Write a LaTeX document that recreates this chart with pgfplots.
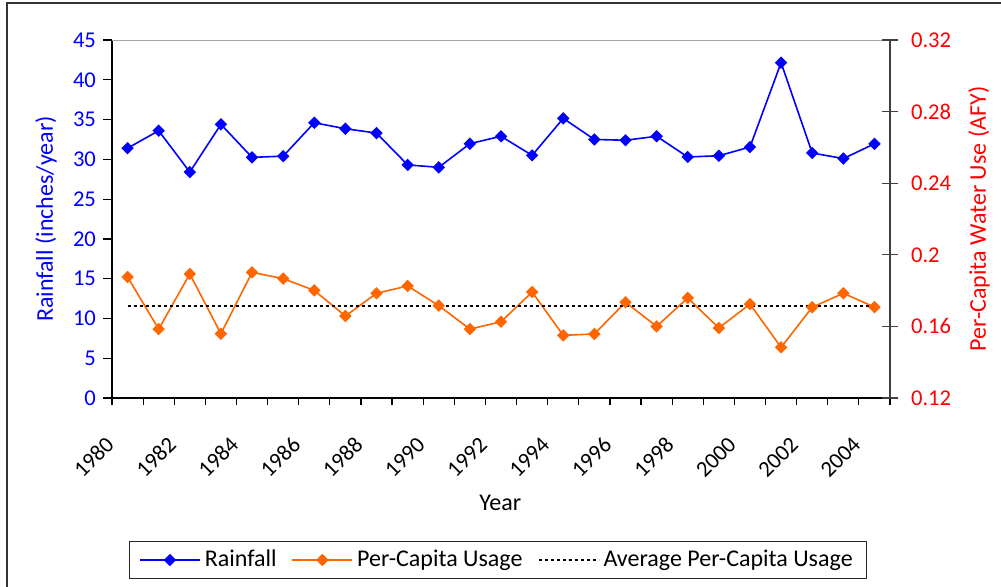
\documentclass[border=0pt]{standalone}
\usepackage{fontspec}
\setmainfont{Carlito}
\usepackage{pgfplots}
\usepackage{pgfplotstable}
\pgfplotsset{compat=1.18}
\definecolor{rain}{RGB}{0,0,255}
\definecolor{usage}{RGB}{255,102,0}
\definecolor{axred}{RGB}{255,0,0}
\newcommand{\tf}{\fontsize{11.3}{13}\selectfont}
\newcommand{\lf}{\fontsize{12}{14}\selectfont}

\pgfplotstableread{
year rain usage
1980 31.4 0.1876
1981 33.6 0.1585
1982 28.4 0.1893
1983 34.4 0.1559
1984 30.25 0.1902
1985 30.4 0.1867
1986 34.6 0.1801
1987 33.85 0.1658
1988 33.3 0.1785
1989 29.3 0.1826
1990 29.0 0.1716
1991 31.97 0.1585
1992 32.9 0.1626
1993 30.5 0.1792
1994 35.15 0.1550
1995 32.5 0.1558
1996 32.4 0.1735
1997 32.9 0.1600
1998 30.3 0.1759
1999 30.45 0.1591
2000 31.55 0.1725
2001 42.15 0.1483
2002 30.8 0.1707
2003 30.1 0.1785
2004 31.95 0.1708
}\data

\pgfplotstableread{
year avg
1980 0.1714
2004 0.1714
}\avgdata

\begin{document}
\begin{tikzpicture}
\useasboundingbox (0,0) rectangle (500.5pt,293pt);
\draw[line width=1pt, black!80] (3.5pt,-2pt) -- (3.5pt,291.5pt) -- (503pt,291.5pt);
\begin{axis}[
  at={(56pt,94pt)}, anchor=south west, scale only axis,
  width=389pt, height=179pt,
  xmin=1979.5, xmax=2004.5, ymin=0, ymax=45,
  axis x line*=bottom, axis y line*=left,
  axis line style={-, black, line width=0.8pt},
  tick align=outside,
  xtick={1980,1982,...,2004},
  xticklabels={1980,1982,1984,1986,1988,1990,1992,1994,1996,1998,2000,2002,2004},
  major x tick style={draw=none},
  minor xtick={1979.5,1980.5,...,2004.5},
  minor x tick style={black, line width=0.6pt},
  minor tick length=3.5pt,
  major tick length=4.5pt,
  ytick={0,5,...,45},
  yticklabels={0,5,10,15,20,25,30,35,40,45},
  ytick style={black, line width=0.6pt},
  yticklabel style={text=rain, font=\tf},
  xticklabel style={font=\tf, xshift=-6.4pt, yshift=-14.5pt, rotate=45, anchor=east},
  xlabel={Year},
  xlabel style={font=\lf, at={(axis description cs:0.499,-0.292)}, anchor=center},
  ylabel={Rainfall (inches/year)},
  ylabel style={font=\lf, text=rain, at={(axis description cs:-0.0848,0.5)}, anchor=center, rotate=0},
]
\draw[gray!70, line width=0.8pt] (rel axis cs:0,1) -- (rel axis cs:1,1);
\addplot[rain, line width=0.8pt, mark=square*, mark size=1.8pt, mark options={rotate=45, solid}] table[x=year, y=rain] {\data};
\end{axis}
\begin{axis}[
  at={(56pt,94pt)}, anchor=south west, scale only axis,
  width=389pt, height=179pt,
  xmin=1979.5, xmax=2004.5, ymin=0.12, ymax=0.32,
  axis x line=none, axis y line*=right,
  axis line style={-, black!75, line width=0.8pt},
  tick align=center, major tick length=8pt,
  ytick={0.12,0.16,0.2,0.24,0.28,0.32},
  yticklabels={0.12,0.16,0.2,0.24,0.28,0.32},
  ytick style={black!75, line width=0.6pt},
  yticklabel style={text=axred, font=\tf, xshift=3pt},
  ylabel={Per-Capita Water Use (AFY)},
  ylabel style={font=\lf, text=axred, at={(axis description cs:1.1144,0.5)}, anchor=center, rotate=0},
  legend columns=-1,
  legend style={at={(0.496,-0.4525)}, anchor=center, draw=black!85, line width=0.6pt, font=\lf,
    inner xsep=5pt, inner ysep=2.5pt,
    /tikz/every even column/.append style={column sep=5.5pt}},
  legend image code/.code={\draw[mark repeat=2,mark phase=2,#1] plot coordinates {(0pt,0pt) (15pt,0pt) (30pt,0pt)};},
]
\addlegendimage{rain, line width=0.8pt, mark=square*, mark size=1.8pt, mark options={rotate=45, solid}}
\addlegendentry{Rainfall}
\addplot[usage, line width=0.8pt, mark=square*, mark size=1.8pt, mark options={rotate=45, solid}] table[x=year, y=usage] {\data};
\addlegendentry{Per-Capita Usage}
\addplot[black, line width=1pt, dash pattern=on 1.6pt off 1.4pt] table[x=year, y=avg] {\avgdata};
\addlegendentry{Average Per-Capita Usage}
\end{axis}
\end{tikzpicture}
\end{document}
